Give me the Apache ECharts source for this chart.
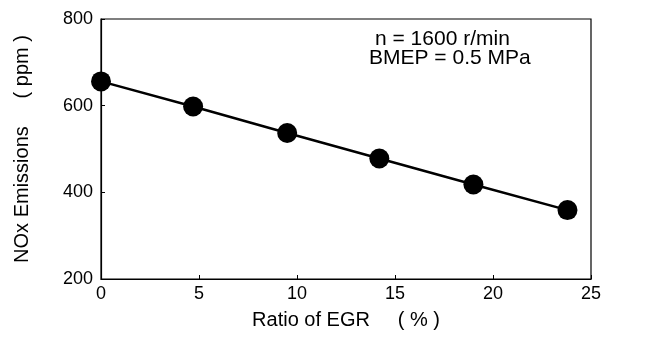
<!DOCTYPE html>
<html>
<head>
<meta charset="utf-8">
<script src="https://cdn.jsdelivr.net/npm/echarts@6/dist/echarts.min.js"></script>
<style>
  html, body { margin: 0; padding: 0; background: #fff; }
  #chart { width: 645px; height: 338px; }
</style>
</head>
<body>
<div id="chart"></div>
<script>
// EGR ratio (%) and NOx (ppm)
const egrRatio = [0, 4.7, 9.5, 14.2, 19.0, 23.8]
const noxPpm = [656, 598, 537, 478, 418, 359]
const xTicks = [0, 5, 10, 15, 20, 25]
const yTicks = [200, 400, 600, 800]
const noteLines = ['n = 1600 r/min', 'BMEP = 0.5 MPa']

const font = 'Liberation Sans, Arial, sans-serif'
const myChart = echarts.init(document.getElementById('chart'))

myChart.setOption({
  animation: false,
  backgroundColor: '#fff',
  grid: {
    left: 101,
    right: 54,
    top: 19,
    bottom: 59,
    show: true,
    borderColor: '#000',
    borderWidth: 1.2
  },
  xAxis: {
    type: 'value',
    min: xTicks[0],
    max: xTicks[xTicks.length - 1],
    interval: 5,
    name: 'Ratio of EGR     ( % )',
    nameLocation: 'middle',
    nameGap: 31,
    nameTextStyle: { color: '#000', fontSize: 20, fontFamily: font },
    axisLine: { lineStyle: { color: '#000', width: 1.2 } },
    axisTick: { inside: true, length: 4, lineStyle: { color: '#000' } },
    axisLabel: { color: '#000', fontSize: 18, fontFamily: font, margin: 6 },
    splitLine: { show: false }
  },
  yAxis: {
    type: 'value',
    min: yTicks[0],
    max: yTicks[yTicks.length - 1],
    interval: 200,
    name: 'NOx Emissions     ( ppm )',
    nameLocation: 'middle',
    nameGap: 69,
    nameTextStyle: { color: '#000', fontSize: 20, fontFamily: font },
    axisLine: { lineStyle: { color: '#000', width: 1.2 } },
    axisTick: { inside: true, length: 4, lineStyle: { color: '#000' } },
    axisLabel: { color: '#000', fontSize: 18, fontFamily: font, margin: 8 },
    splitLine: { show: false }
  },
  graphic: [
    {
      type: 'text',
      left: 375,
      top: 29,
      style: { text: noteLines[0], fill: '#000', font: '21px ' + font }
    },
    {
      type: 'text',
      left: 369,
      top: 48,
      style: { text: noteLines[1], fill: '#000', font: '21px ' + font }
    }
  ],
  series: [
    {
      type: 'line',
      data: egrRatio.map((x, i) => [x, noxPpm[i]]),
      symbol: 'circle',
      symbolSize: 20,
      lineStyle: { color: '#000', width: 2.5 },
      itemStyle: { color: '#000' }
    }
  ]
})
</script>
</body>
</html>
